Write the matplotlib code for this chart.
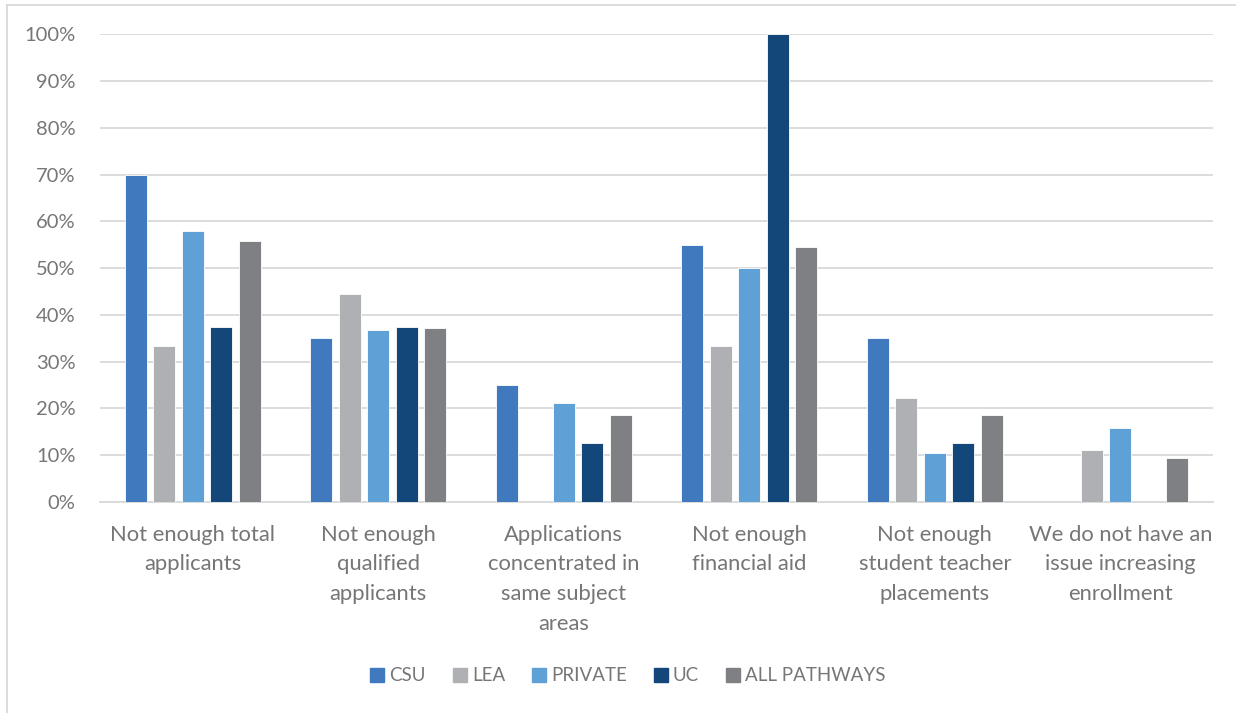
import numpy as np
import matplotlib
matplotlib.use('Agg')
from matplotlib import pyplot as plt
from matplotlib.lines import Line2D
from matplotlib.ticker import PercentFormatter

plt.rcParams['font.family'] = ['Lato', 'DejaVu Sans']

categories = ['Not enough total\napplicants',
              'Not enough\nqualified\napplicants',
              'Applications\nconcentrated in\nsame subject\nareas',
              'Not enough\nfinancial aid',
              'Not enough\nstudent teacher\nplacements',
              'We do not have an\nissue increasing\nenrollment']

series_names = ['CSU', 'LEA', 'PRIVATE', 'UC', 'ALL PATHWAYS']
csu = [70.0, 35.0, 25.0, 55.0, 35.0, 0.0]
lea = [33.3, 44.4, 0.0, 33.3, 22.2, 11.1]
private = [57.9, 36.8, 21.1, 50.0, 10.5, 15.8]
uc = [37.5, 37.5, 12.5, 100.0, 12.5, 0.0]
all_pathways = [55.8, 37.2, 18.6, 54.5, 18.6, 9.3]

colors = ['#4179BF', '#AFB0B3', '#5FA0D6', '#134679', '#7F8084']
text_color = '#767676'
grid_color = '#D9D9D9'

fig = plt.figure(figsize=(12.36, 7.13), dpi=100)
ax = fig.add_axes([0.0809, 0.296, 0.9005, 0.656])

index = np.arange(len(categories))
pitch = 0.154
bar_width = 0.119
data = [csu, lea, private, uc, all_pathways]
for i, (vals, name, c) in enumerate(zip(data, series_names, colors)):
    offs = (i - 2) * pitch
    ax.bar(index + offs, vals, bar_width, color=c, edgecolor='white',
           linewidth=0.6, label=name, zorder=3)

ax.set_ylim(0, 100)
ax.set_xlim(-0.5, len(categories) - 0.5)
ax.set_yticks(np.arange(0, 101, 10))
ax.yaxis.set_major_formatter(PercentFormatter(decimals=0))
ax.grid(axis='y', color=grid_color, linewidth=1.3, zorder=0)
for s in ['top', 'right', 'left']:
    ax.spines[s].set_visible(False)
ax.spines['bottom'].set_color(grid_color)
ax.spines['bottom'].set_linewidth(1.3)
ax.tick_params(left=False, bottom=False, colors=text_color, labelsize=14.5)
ax.tick_params(axis='y', pad=14)

ax.set_xticks(index)
ax.set_xticklabels([])
for x, lab in zip(index, categories):
    ax.text(x, -4.9, lab, ha='center', va='top', fontsize=15.8,
            color=text_color, linespacing=1.6,
            transform=ax.transData)

handles = [Line2D([], [], marker='s', linestyle='none', markersize=10,
                  markerfacecolor=c, markeredgecolor=c) for c in colors]
fig.legend(handles, series_names, loc='center', bbox_to_anchor=(0.507, 0.052),
           ncol=5, frameon=False, fontsize=13.5, labelcolor=text_color,
           handletextpad=0.15, columnspacing=1.3, handlelength=1.0)

# light chart-area border
fig.add_artist(Line2D([0.0057, 0.0057], [0.0, 0.993], color='#D9D9D9',
                      linewidth=1.3, transform=fig.transFigure))
fig.add_artist(Line2D([0.0057, 1.0], [0.993, 0.993], color='#D9D9D9',
                      linewidth=1.3, transform=fig.transFigure))

fig.savefig('out.png', dpi=100)
